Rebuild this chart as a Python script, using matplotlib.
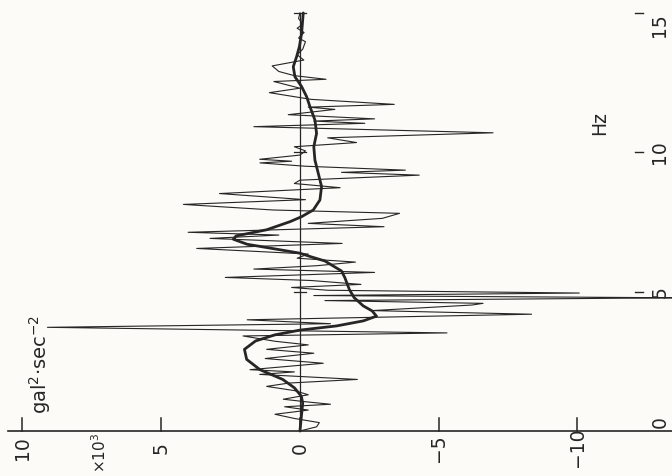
import matplotlib
matplotlib.use('Agg')
import matplotlib.pyplot as plt

# raw spectrum (Hz, value x10^3 gal^2 sec^-2)
raw_hz = [0.00, 0.15, 0.30, 0.45, 0.60, 0.75, 0.87, 0.96, 1.05, 1.14, 1.30, 1.45,
          1.60, 1.72, 1.85, 2.03, 2.12, 2.20, 2.43, 2.60, 2.79, 2.93, 3.09, 3.22,
          3.41, 3.52, 3.72, 3.85, 3.99, 4.19, 4.32, 4.52, 4.58, 4.68, 4.78, 4.86,
          4.95, 5.05, 5.15, 5.26, 5.40, 5.51, 5.69, 5.81, 5.93, 6.06, 6.20, 6.35,
          6.55, 6.73, 6.91, 7.03, 7.13, 7.33, 7.45, 7.63, 7.81, 7.93, 8.13, 8.30,
          8.52, 8.73, 8.88, 9.00, 9.18, 9.28, 9.36, 9.50, 9.62, 9.68, 9.75, 9.90,
          10.05, 10.20, 10.35, 10.52, 10.70, 10.92, 11.04, 11.12, 11.20, 11.35,
          11.54, 11.62, 11.72, 11.90, 12.14, 12.30, 12.54, 12.62, 12.75, 12.90,
          13.10, 13.31, 13.50, 13.70, 13.97, 14.10, 14.30, 14.45, 14.60, 14.80, 15.00]
raw_val = [0.0, -0.6, -0.7, 0.2, 0.9, -0.3, 0.55, -1.1, -0.2, 0.6, -0.3, 0.2,
           1.2, 0.4, -2.07, 1.45, 0.2, 1.8, -0.84, 1.25, -0.5, 1.2, -0.3, 0.9,
           2.05, -5.3, 9.1, -1.1, 1.9, -8.35, -2.6, -6.2, -6.6, -0.9, -13.6, -0.5,
           -10.07, -1.0, 0.3, -2.2, -0.4, 2.69, -2.69, 1.66, -0.6, -2.0, 0.1, -0.3,
           3.72, -1.52, 3.24, 0.76, 4.03, -3.03, -0.3, -2.97, -3.59, 0.97, 4.2, -0.2,
           2.9, -1.45, 0.2, 0.0, -4.3, -1.5, -3.8, -0.2, 1.44, 0.3, 1.45, 0.0,
           -0.2, 0.2, -2.04, -1.0, -6.96, 1.66, -2.34, -0.5, -2.69, 0.42,
           -1.26, -0.3, -3.4, -0.4, 1.1, 0.0, 0.94, -0.94, 0.2, 0.76,
           1.0, -0.14, 0.1, -0.1, -0.2, 0.05, -0.15, 0.1, -0.1, 0.05, 0.0]

# smoothed spectrum
smooth_hz = [0, 0.5, 1.0, 1.25, 1.55, 1.85, 2.2, 2.57, 2.93, 3.23, 3.45, 3.62, 3.77,
             3.95, 4.12, 4.31, 4.49, 4.79, 5.08, 5.5, 5.74, 5.92, 6.1, 6.25, 6.38,
             6.55, 6.7, 6.88, 7.0, 7.22, 7.51, 7.69, 7.93, 8.29, 8.77, 9.25, 9.72,
             10.2, 10.68, 11.16, 11.64, 12.0, 12.36, 12.71, 13.07, 13.43, 13.79,
             14.27, 15.0]
smooth_val = [0, -0.05, -0.1, -0.05, 0.2, 0.62, 1.44, 1.92, 2.0, 1.6, 0.9, 0.0, -1.32,
              -2.28, -2.76, -2.6, -2.28, -1.95, -1.78, -1.62, -1.5, -1.2, -0.9, -0.4, 0.0,
              1.0, 1.9, 2.4, 2.3, 1.2, 0.36, -0.06, -0.48, -0.72, -0.78, -0.66, -0.54,
              -0.5, -0.6, -0.54, -0.36, -0.24, -0.06, 0.18, 0.24, 0.12, 0.02,
              -0.06, -0.12]

val_ticks = [10, 5, 0, -5, -10]
val_labels = ['10', '5', '0', '\u22125', '\u221210']
hz_ticks = [0, 5, 10, 15]

ink = '#262626'
plt.rcParams['font.family'] = ['DejaVu Sans']

fig = plt.figure(figsize=(6.72, 4.76), dpi=100, facecolor='#fcfbf7')
ax = fig.add_axes([0, 0, 1, 1])
ax.set_facecolor('#fcfbf7')
# the page is turned: value runs right-to-left, frequency runs upward
ax.set_xlim(10.81, -13.41)
ax.set_ylim(-1.615, 15.465)
ax.axis('off')

# value axis line with ticks
ax.plot([10.52, -13.6], [0, 0], color=ink, lw=1.2, clip_on=False)
for v, lab in zip(val_ticks, val_labels):
    ax.plot([v, v], [0, 0.45], color=ink, lw=1.1)
    ax.text(v, -0.6, lab, rotation=90, ha='center', va='center', fontsize=13.5, color=ink)
ax.text(7.21, -0.8, '\u00d710$^3$', rotation=90, ha='center', va='center', fontsize=11, color=ink)
ax.text(9.37, 2.38, 'gal$^2$\u00b7sec$^{-2}$', rotation=90, ha='center', va='center',
        fontsize=14, color=ink)

# zero baseline with frequency ticks
ax.plot([0, 0], [0, 15], color=ink, lw=0.9)
for h in hz_ticks[1:]:
    ax.plot([0.23, -0.23], [h, h], color=ink, lw=0.9)
    ax.plot([-12.07, -12.36], [h, h], color=ink, lw=1.0)
for h in hz_ticks:
    ax.text(-12.97, min(max(h, 0.33), 14.57), str(h), rotation=90, ha='center', va='center',
            fontsize=13.5, color=ink)
ax.text(-10.81, 11.05, 'Hz', rotation=90, ha='center', va='center', fontsize=13.5, color=ink)

ax.plot(raw_val, raw_hz, color=ink, lw=0.8, clip_on=False)
ax.plot(smooth_val, smooth_hz, color=ink, lw=2.0, solid_joinstyle='round', solid_capstyle='round')

fig.savefig('out.png', dpi=100, facecolor=fig.get_facecolor())
